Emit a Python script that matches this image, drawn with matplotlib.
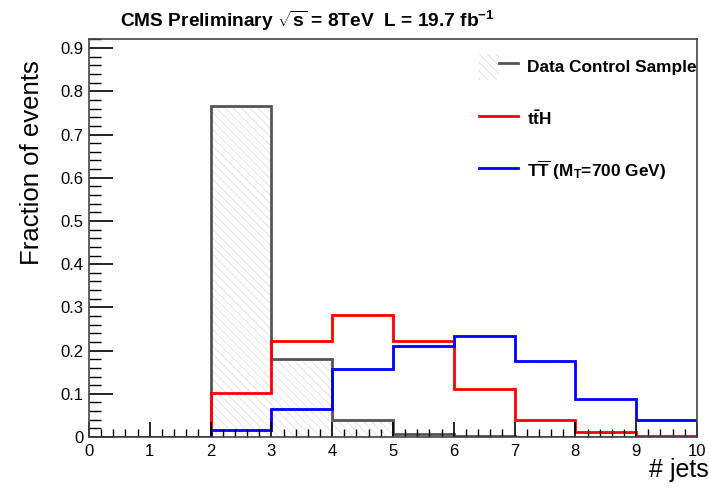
import numpy as np
import matplotlib
matplotlib.use("Agg")
import matplotlib.pyplot as plt
from matplotlib.patches import Patch
from matplotlib.lines import Line2D
from matplotlib.legend_handler import HandlerTuple
from matplotlib.ticker import MultipleLocator, FuncFormatter

plt.rcParams['font.family'] = ['Liberation Sans', 'DejaVu Sans']
plt.rcParams['mathtext.fontset'] = 'custom'
plt.rcParams['mathtext.rm'] = 'Liberation Sans'
plt.rcParams['mathtext.it'] = 'Liberation Sans:italic'
plt.rcParams['mathtext.bf'] = 'Liberation Sans:bold'
plt.rcParams['hatch.linewidth'] = 0.6

# jet multiplicity bins 0..10
bin_edges = np.arange(0, 11)
data_control = [0.0, 0.0, 0.766, 0.180, 0.040, 0.007, 0.003, 0.001, 0.0, 0.0]
tth = [0.0, 0.0, 0.102, 0.222, 0.282, 0.222, 0.111, 0.039, 0.012, 0.003]
tprime = [0.0, 0.0, 0.016, 0.065, 0.157, 0.211, 0.234, 0.176, 0.088, 0.039]

labels = ['Data Control Sample', r'$\mathbf{t\bar{t}H}$',
          r'$\mathbf{T\overline{T}}$ (M$_{\mathbf{T}}$=700 GeV)']

fig = plt.figure(figsize=(7.09, 4.88), dpi=100)
ax = fig.add_axes([0.1255, 0.1045, 0.983 - 0.1255, 0.920 - 0.1045])

gray = '#555555'
hatch_gray = '#e0e0e0'
lw = 2.0

ax.stairs(data_control, bin_edges, fill=True, facecolor='none', edgecolor=hatch_gray,
          linewidth=0, hatch=r'\\\\', baseline=0)
ax.stairs(data_control, bin_edges, color=gray, linewidth=lw, baseline=0)
ax.stairs(tth, bin_edges, color='#ff0000', linewidth=lw, baseline=0)
ax.stairs(tprime, bin_edges, color='#0000ff', linewidth=lw, baseline=0)

ax.set_xlim(0, 10)
ax.set_ylim(0, 0.921)
ax.xaxis.set_major_locator(MultipleLocator(1))
ax.xaxis.set_minor_locator(MultipleLocator(0.2))
ax.yaxis.set_major_locator(MultipleLocator(0.1))
ax.yaxis.set_minor_locator(MultipleLocator(0.02))
ax.yaxis.set_major_formatter(FuncFormatter(
    lambda v, p: '0' if abs(v) < 1e-9 else f'{v:.1f}'))
ax.xaxis.set_major_formatter(FuncFormatter(lambda v, p: f'{v:.0f}'))

ax.tick_params(axis='x', which='major', direction='in', length=11, width=1.2,
               labelsize=12, pad=5, top=False)
ax.tick_params(axis='x', which='minor', direction='in', length=5.5, width=1.0, top=False)
ax.tick_params(axis='y', which='major', direction='in', length=17, width=1.2,
               labelsize=12, pad=4, right=False)
ax.tick_params(axis='y', which='minor', direction='in', length=8.5, width=1.0, right=False)
for s in ax.spines.values():
    s.set_color('#444444')
    s.set_linewidth(1.2)

ax.set_ylabel('Fraction of events', fontsize=18.5)
ax.yaxis.set_label_coords(-0.074, 0.69)
fig.text(0.999, 0.036, '# jets', fontsize=18, ha='right', va='center')

fig.text(0.169, 0.957, r'CMS Preliminary $\mathbf{\sqrt{s}}$ = 8TeV  L = 19.7 fb$^{\mathbf{-1}}$',
         fontsize=13.8, fontweight='bold', ha='left', va='center')

data_handle = (Patch(facecolor='none', edgecolor=hatch_gray, linewidth=0, hatch=r'\\\\'),
               Line2D([], [], color=gray, linewidth=lw))
tth_handle = Line2D([], [], color='#ff0000', linewidth=lw)
tp_handle = Line2D([], [], color='#0000ff', linewidth=lw)
leg = ax.legend([data_handle, tth_handle, tp_handle], labels,
                handler_map={tuple: HandlerTuple(ndivide=None, pad=0)},
                loc='upper left', bbox_to_anchor=(0.617, 1.0),
                frameon=False, prop={'size': 12.4, 'weight': 'bold'},
                handlelength=2.3, handleheight=2.0, handletextpad=0.5,
                labelspacing=1.5, borderaxespad=0.0, borderpad=0.85)

fig.savefig('out.png', dpi=100)
